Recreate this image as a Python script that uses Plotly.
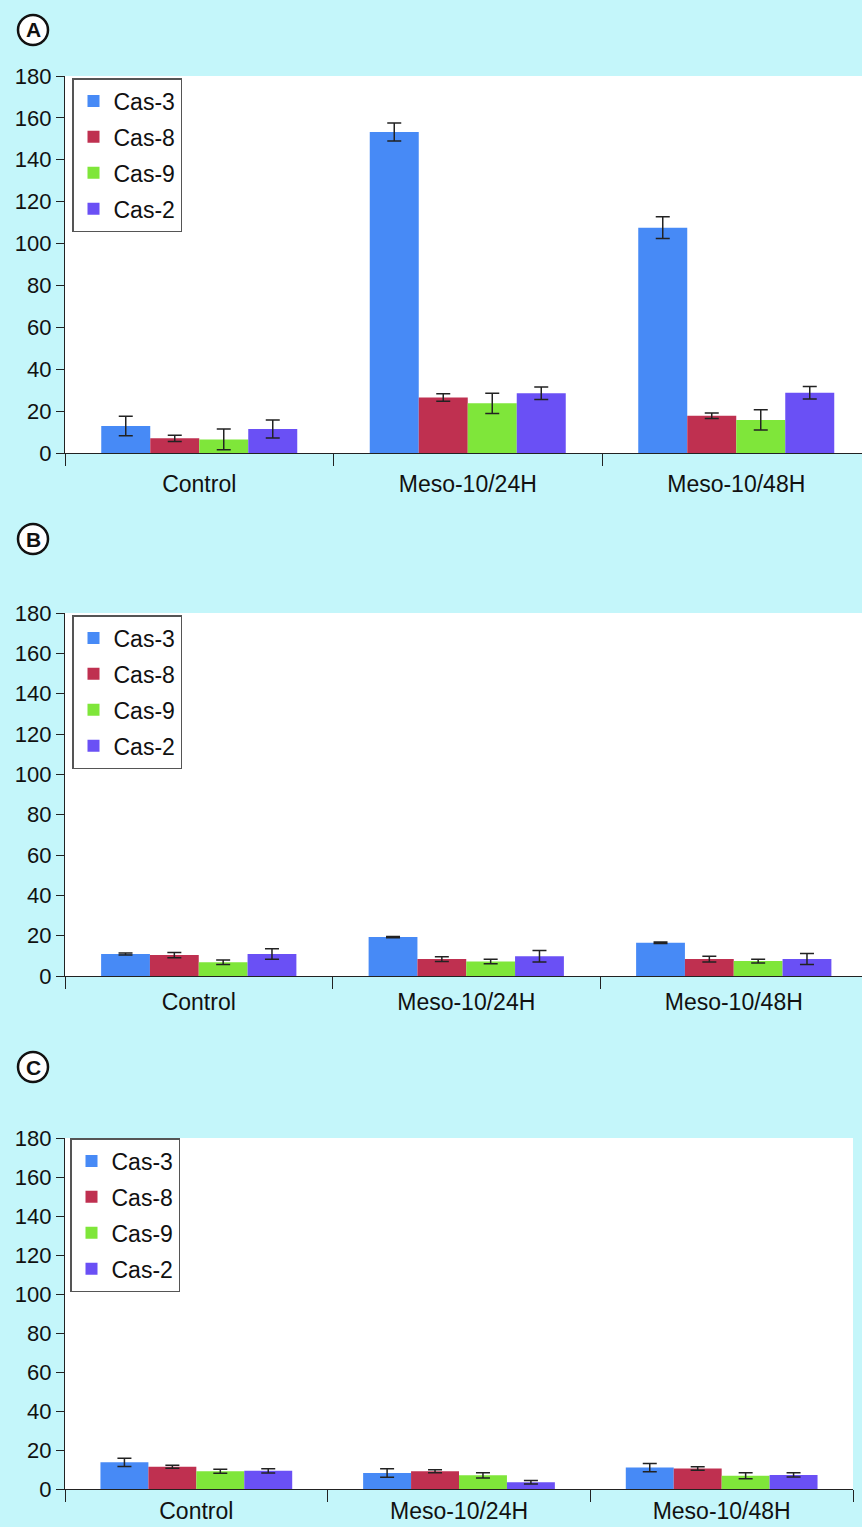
import plotly.graph_objects as go

categories = ["Control", "Meso-10/24H", "Meso-10/48H"]
series_names = ["Cas-3", "Cas-8", "Cas-9", "Cas-2"]
colors = ["#478AF6", "#BF3050", "#7FE63A", "#6A50F5"]

# Panel A
a_cas3 = [12.9, 153.3, 107.6]
a_cas8 = [7.0, 26.5, 17.8]
a_cas9 = [6.5, 23.7, 15.8]
a_cas2 = [11.5, 28.5, 28.8]
a_err3 = [4.7, 4.3, 5.2]
a_err8 = [1.5, 1.8, 1.3]
a_err9 = [5.0, 4.8, 4.8]
a_err2 = [4.3, 3.0, 3.0]

# Panel B
b_cas3 = [10.9, 19.3, 16.5]
b_cas8 = [10.4, 8.4, 8.4]
b_cas9 = [6.8, 7.2, 7.4]
b_cas2 = [10.9, 9.8, 8.4]
b_err3 = [0.5, 0.3, 0.4]
b_err8 = [1.3, 1.2, 1.4]
b_err9 = [1.1, 1.1, 0.9]
b_err2 = [2.6, 2.9, 2.7]

# Panel C
c_cas3 = [13.7, 8.2, 11.0]
c_cas8 = [11.4, 9.1, 10.5]
c_cas9 = [9.1, 7.0, 6.8]
c_cas2 = [9.3, 3.5, 7.2]
c_err3 = [2.1, 2.2, 2.1]
c_err8 = [0.8, 0.8, 0.9]
c_err9 = [1.05, 1.3, 1.5]
c_err2 = [1.1, 0.9, 1.1]

panel_labels = ["A", "B", "C"]
y_ticks = [0, 20, 40, 60, 80, 100, 120, 140, 160, 180]

panels = [
    ([a_cas3, a_cas8, a_cas9, a_cas2], [a_err3, a_err8, a_err9, a_err2]),
    ([b_cas3, b_cas8, b_cas9, b_cas2], [b_err3, b_err8, b_err9, b_err2]),
    ([c_cas3, c_cas8, c_cas9, c_cas2], [c_err3, c_err8, c_err9, c_err2]),
]

W, H = 862, 1527
ML = 65
PW = W - ML

def px_to_py(y):
    return 1 - y / H

def px_to_px(x):
    return (x - ML) / PW

ydoms = [(76, 453), (613, 976), (1138, 1489)]
xranges = [[-0.5, -0.5 + PW / 268.5], [-0.5, -0.5 + PW / 267.5], [-0.5, 2.5]]
xdoms = [[0, 1], [0, 1], [0, px_to_px(853)]]
legend_pos = [(72, 78), (72, 615), (70, 1138)]
letter_centers = [(33, 30), (33, 539), (33, 1067)]
label_standoff = [10, 5, 1]

fig = go.Figure()
for p, (vals, errs) in enumerate(panels):
    suffix = "" if p == 0 else str(p + 1)
    for i, name in enumerate(series_names):
        fig.add_trace(go.Bar(
            x=categories, y=vals[i], name=name,
            marker=dict(color=colors[i], line=dict(width=0)),
            error_y=dict(type="data", array=errs[i], visible=True,
                         color="#222222", thickness=1.5, width=7),
            xaxis="x" + suffix, yaxis="y" + suffix,
            legend="legend" + suffix, legendgroup=f"{p}-{name}",
            showlegend=True,
        ))

layout = dict(
    width=W, height=H,
    paper_bgcolor="#C4F6FA", plot_bgcolor="#FFFFFF",
    margin=dict(l=ML, r=0, t=0, b=0, pad=0, autoexpand=False),
    barmode="group", bargap=0.27, bargroupgap=0,
    font=dict(family="Liberation Sans, Arial, sans-serif", color="#111111", size=22),
)
shapes = []
annotations = []
for p in range(3):
    suffix = "" if p == 0 else str(p + 1)
    top, bot = ydoms[p]
    layout["xaxis" + suffix] = dict(
        domain=xdoms[p], range=xranges[p], type="category",
        anchor="y" + suffix, automargin=False,
        showline=True, linecolor="#222222", linewidth=1.3,
        ticks="outside", tickson="boundaries", ticklen=12, tickcolor="#222222", tickwidth=1.3,
        ticklabelstandoff=label_standoff[p],
        showgrid=False, zeroline=False,
        tickfont=dict(size=23), fixedrange=True,
    )
    layout["yaxis" + suffix] = dict(
        domain=[px_to_py(bot), px_to_py(top)], range=[0, 180],
        anchor="x" + suffix, tickvals=y_ticks, automargin=False,
        showline=True, linecolor="#222222", linewidth=1.3,
        ticks="outside", ticklen=8, tickcolor="#222222", tickwidth=1.3,
        showgrid=False, zeroline=False,
        tickfont=dict(size=22), fixedrange=True,
    )
    lx, ly = legend_pos[p]
    layout["legend" + suffix] = dict(
        x=px_to_px(lx), y=px_to_py(ly), xanchor="left", yanchor="top",
        bgcolor="#FFFFFF", bordercolor="#555555", borderwidth=1.5,
        font=dict(size=23), tracegroupgap=3, traceorder="grouped",
    )
    cx, cy = letter_centers[p]
    r = 15
    shapes.append(dict(
        type="circle", xref="paper", yref="paper",
        x0=px_to_px(cx - r), x1=px_to_px(cx + r),
        y0=px_to_py(cy + r), y1=px_to_py(cy - r),
        line=dict(color="#111111", width=2.5), fillcolor="#FFFFFF",
    ))
    annotations.append(dict(
        text="<b>" + panel_labels[p] + "</b>", xref="paper", yref="paper",
        x=px_to_px(cx), y=px_to_py(cy), xanchor="center", yanchor="middle",
        showarrow=False, font=dict(size=21, color="#111111"),
    ))

layout["shapes"] = shapes
layout["annotations"] = annotations
fig.update_layout(**layout)
fig.write_html(
    "out.html",
    config={"displayModeBar": False},
    post_script="document.body.style.margin='0';document.body.style.overflow='hidden';",
)
